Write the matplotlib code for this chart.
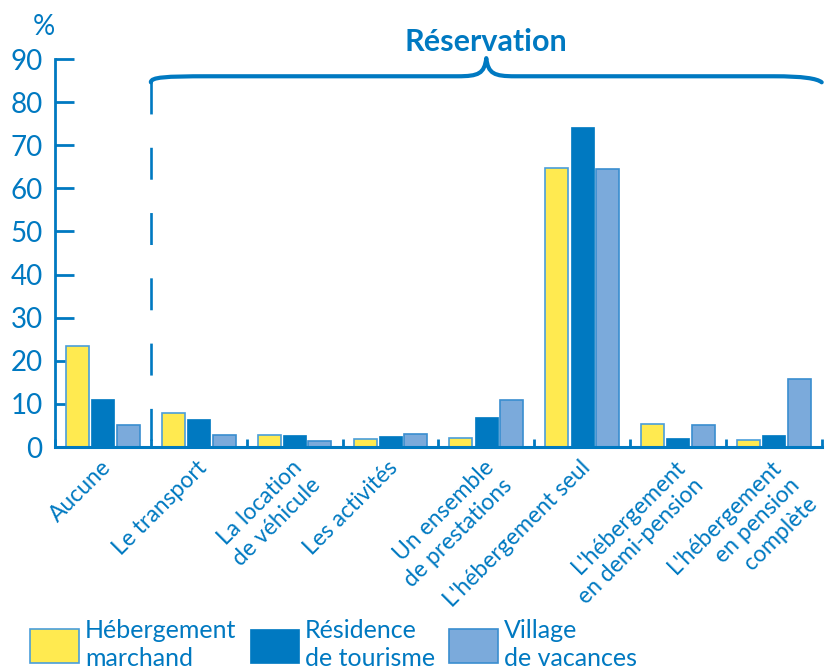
import numpy as np
import matplotlib
matplotlib.use('Agg')
import matplotlib.pyplot as plt
from matplotlib.path import Path
from matplotlib.patches import PathPatch
from matplotlib.transforms import ScaledTranslation

plt.rcParams['font.family'] = ['Lato', 'DejaVu Sans']
plt.rcParams['lines.scale_dashes'] = False

# données (%)
categories = ['Aucune', 'Le transport', 'La location\nde véhicule', 'Les activités',
              'Un ensemble\nde prestations', "L'hébergement seul",
              "L'hébergement\nen demi-pension", "L'hébergement\nen pension\ncomplète"]
series_names = ['Hébergement\nmarchand', 'Résidence\nde tourisme', 'Village\nde vacances']
marchand = [23.4, 7.9, 2.7, 1.9, 2.1, 64.7, 5.4, 1.6]
residence = [11.1, 6.4, 2.9, 2.5, 6.9, 74.2, 2.0, 2.7]
village = [5.2, 2.7, 1.5, 3.1, 10.8, 64.4, 5.2, 15.8]
y_ticks = [0, 10, 20, 30, 40, 50, 60, 70, 80, 90]

BLUE = '#0079C1'
YELLOW = '#FFEA50'
LIGHT = '#7BAADB'

fig = plt.figure(figsize=(8.26, 6.70), dpi=100)
ax = fig.add_axes([0.0666, 0.3328, 0.9282, 0.5791])

x = np.arange(len(categories))
w = 0.24
off = 0.264
b1 = ax.bar(x - off, marchand, w, color=YELLOW, edgecolor='#4A9EDA', linewidth=1.2,
            label=series_names[0], zorder=3)
b2 = ax.bar(x, residence, w, color=BLUE, edgecolor=BLUE, linewidth=0.5,
            label=series_names[1], zorder=3)
b3 = ax.bar(x + off, village, w, color=LIGHT, edgecolor='#3A8ED0', linewidth=1.2,
            label=series_names[2], zorder=3)

ax.set_xlim(-0.5, len(categories) - 0.5)
ax.set_ylim(0, 90)

# axes
for s in ['top', 'right']:
    ax.spines[s].set_visible(False)
ax.spines['left'].set_color(BLUE)
ax.spines['left'].set_linewidth(2.0)
ax.spines['bottom'].set_color(BLUE)
ax.spines['bottom'].set_linewidth(2.2)
ax.spines['bottom'].set_zorder(4)

ax.set_yticks(y_ticks)
ax.set_yticklabels([str(v) for v in y_ticks])
ax.tick_params(axis='y', direction='in', length=14, width=2.0, color=BLUE,
               labelcolor=BLUE, labelsize=20, pad=9)

ax.set_xticks(x)
ax.set_xticklabels(categories, rotation=45, ha='right', va='top',
                   rotation_mode='anchor', fontsize=16.5, color=BLUE,
                   multialignment='right', linespacing=1.25)
ax.tick_params(axis='x', length=0, pad=7)
ax.set_xticks(np.arange(-0.5, len(categories), 1.0), minor=True)
ax.tick_params(axis='x', which='minor', direction='in', length=6, width=2.0, color=BLUE)

# léger décalage des étiquettes vers la gauche
for lbl in ax.get_xticklabels():
    lbl.set_transform(lbl.get_transform() + ScaledTranslation(-3 / 100, 0, fig.dpi_scale_trans))

fig.text(33 / 826, 1 - 35 / 670, '%', color=BLUE, fontsize=20, ha='left', va='baseline')

# accolade "Réservation"
ax.plot([0.5, 0.5], [84.6, 0], color=BLUE, lw=1.9, dashes=(23, 24), clip_on=False, zorder=2)
verts = [(0.5, 84.6), (0.5, 85.8), (0.65, 86.0), (1.1, 86.0),
         (3.7, 86.0),
         (3.92, 86.0), (3.98, 86.6), (4.0, 90.2),
         (4.02, 86.6), (4.08, 86.0), (4.3, 86.0),
         (7.0, 86.0),
         (7.3, 86.0), (7.45, 85.5), (7.5, 84.6)]
codes = [Path.MOVETO, Path.CURVE4, Path.CURVE4, Path.CURVE4,
         Path.LINETO,
         Path.CURVE4, Path.CURVE4, Path.CURVE4,
         Path.CURVE4, Path.CURVE4, Path.CURVE4,
         Path.LINETO,
         Path.CURVE4, Path.CURVE4, Path.CURVE4]
ax.add_patch(PathPatch(Path(verts, codes), facecolor='none', edgecolor=BLUE,
                       lw=3.0, clip_on=False, capstyle='round', joinstyle='round'))
ax.text(4.0, 91.8, 'Réservation', color=BLUE, fontsize=22, fontweight='bold',
        ha='center', va='baseline', clip_on=False)

leg = ax.legend(handles=[b1, b2, b3], loc='upper left',
                bbox_to_anchor=(30 / 826, 1 - 619 / 670), bbox_transform=fig.transFigure,
                ncol=3, frameon=False, fontsize=18, handlelength=1.95, handleheight=1.7,
                handletextpad=0.25, columnspacing=0.55, borderpad=0, borderaxespad=0)
for t in leg.get_texts():
    t.set_color(BLUE)
    t.set_linespacing(1.25)

fig.savefig('out.png', dpi=100)
